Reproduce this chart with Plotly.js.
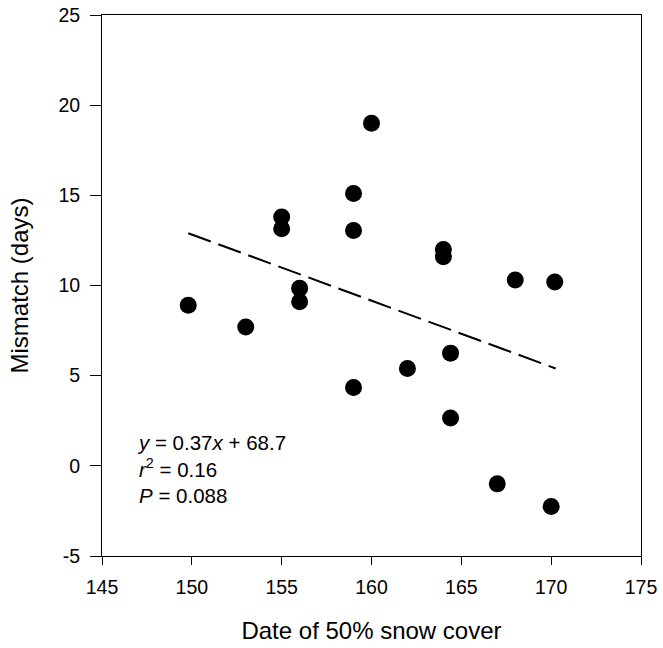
<!DOCTYPE html>
<html>
<head>
<meta charset="utf-8">
<script src="https://cdn.plot.ly/plotly-3.0.1.min.js"></script>
<style>html,body{margin:0;padding:0;background:#fff;}#chart{width:663px;height:648px;}</style>
</head>
<body>
<div id="chart"></div>
<script>
// Data
const snowDate = [149.8, 153.0, 155.0, 155.0, 156.0, 156.0, 159.0, 159.0, 160.0, 164.0, 164.0, 168.0, 170.2, 164.4, 162.0, 159.0, 164.4, 167.0, 170.0];
const mismatch = [8.9, 7.7, 13.8, 13.15, 9.85, 9.1, 15.1, 13.05, 19.0, 12.0, 11.6, 10.3, 10.2, 6.25, 5.4, 4.35, 2.65, -1.0, -2.25];
const fitX = [149.8, 170.25];
const fitY = [12.9, 5.4];
const xTicks = [145, 150, 155, 160, 165, 170, 175];
const yTicks = [-5, 0, 5, 10, 15, 20, 25];
const statsText = "<i>y</i> = 0.37<i>x</i> + 68.7<br><i>r</i><sup>2</sup> = 0.16<br><i>P</i> = 0.088";

const font = "Liberation Sans, Arial, sans-serif";

const traces = [
  {
    x: fitX, y: fitY, type: "scatter", mode: "lines",
    line: {color: "#000", width: 2, dash: "24px,8px"},
    hoverinfo: "skip"
  },
  {
    x: snowDate, y: mismatch, type: "scatter", mode: "markers",
    marker: {color: "#000", size: 17, line: {width: 0}}
  }
];

const layout = {
  width: 663, height: 648,
  margin: {l: 102, r: 22, t: 15, b: 92},
  paper_bgcolor: "#fff", plot_bgcolor: "#fff",
  showlegend: false,
  font: {family: font, color: "#000", size: 19.5},
  xaxis: {
    range: [145, 175], tickvals: xTicks, ticktext: xTicks.map(String),
    showgrid: false, zeroline: false,
    showline: true, linecolor: "#000", linewidth: 1, mirror: true,
    ticks: "outside", ticklen: 8, tickcolor: "#000", tickwidth: 1,
    ticklabelstandoff: 6,
    tickfont: {family: font, size: 19.5, color: "#000"},
    title: {text: "Date of 50% snow cover", font: {family: font, size: 24, color: "#000"}, standoff: 24}
  },
  yaxis: {
    range: [-5, 25], tickvals: yTicks, ticktext: yTicks.map(String),
    showgrid: false, zeroline: false,
    showline: true, linecolor: "#000", linewidth: 1, mirror: true,
    ticks: "outside", ticklen: 11, tickcolor: "#000", tickwidth: 1,
    ticklabelstandoff: 6,
    tickfont: {family: font, size: 19.5, color: "#000"},
    title: {text: "Mismatch (days)", font: {family: font, size: 24, color: "#000"}, standoff: 22}
  },
  annotations: [{
    xref: "paper", yref: "paper", x: 0.062, y: 0.161,
    xanchor: "left", yanchor: "middle", align: "left", showarrow: false,
    text: statsText, font: {family: font, size: 20.5, color: "#000"}
  }]
};

Plotly.newPlot("chart", traces, layout, {displayModeBar: false, staticPlot: true});
</script>
</body>
</html>
